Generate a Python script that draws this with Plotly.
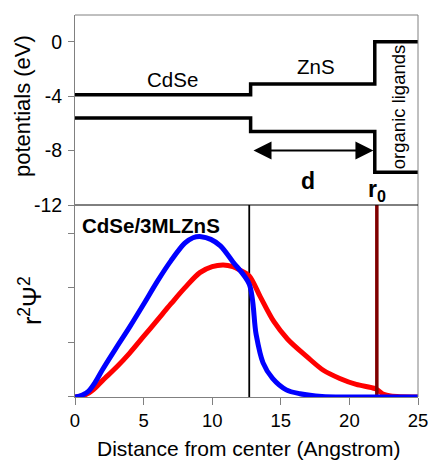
import plotly.graph_objects as go

# --- data ---
blue_x = [0, 0.5, 1, 1.5, 2, 3, 4, 5, 6, 7, 8, 8.6, 9.2, 9.9, 10.6, 11.5, 12.7, 13.2, 13.7, 14.4, 15.4, 16.4, 18, 20, 25]
blue_y = [0, 0.03, 0.11, 0.28, 0.5, 0.9, 1.29, 1.70, 2.12, 2.50, 2.82, 2.92, 2.94, 2.89, 2.77, 2.48, 2.07, 1.15, 0.63, 0.34, 0.13, 0.06, 0.01, 0, 0]

red_x = [0, 0.5, 1, 1.5, 2, 3, 4, 5, 6, 7, 8, 9.1, 10.0, 10.8, 11.5, 12.0, 12.7, 13.5, 14.5, 15.5, 16.9, 18.1, 19.3, 20.5, 21.9, 22.5, 23, 25]
red_y = [0, 0.02, 0.07, 0.17, 0.3, 0.54, 0.81, 1.11, 1.41, 1.71, 2.0, 2.28, 2.39, 2.42, 2.39, 2.33, 2.22, 1.84, 1.38, 1.06, 0.74, 0.49, 0.34, 0.23, 0.15, 0.05, 0.02, 0]

pot_x = [0, 12.8, 12.8, 21.85, 21.85, 25]
cond_band = [-3.9, -3.9, -3.1, -3.1, 0, 0]
val_band = [-5.6, -5.6, -6.6, -6.6, -9.6, -9.6]

interface_r = 12.7
r0 = 22.0

x_ticks = [0, 5, 10, 15, 20, 25]
pot_ticks = [0, -4, -8, -12]

FONT = "Liberation Sans, Arial, sans-serif"
AX = "#808080"
SPLIT = 0.5026

fig = go.Figure()

# bottom panel
fig.add_trace(go.Scatter(x=[interface_r, interface_r], y=[0, 3.52], mode="lines",
                         line=dict(color="black", width=1.8), xaxis="x", yaxis="y"))
fig.add_trace(go.Scatter(x=red_x, y=red_y, mode="lines", line=dict(color="#ff0000", width=5, shape="spline", smoothing=0.9),
                         xaxis="x", yaxis="y"))
fig.add_trace(go.Scatter(x=[r0, r0], y=[0, 3.52], mode="lines",
                         line=dict(color="#800000", width=3.5), xaxis="x", yaxis="y"))
fig.add_trace(go.Scatter(x=blue_x, y=blue_y, mode="lines", line=dict(color="#0000ff", width=5, shape="spline", smoothing=0.9),
                         xaxis="x", yaxis="y"))

# top panel
fig.add_trace(go.Scatter(x=pot_x, y=cond_band, mode="lines", line=dict(color="black", width=3.5),
                         xaxis="x", yaxis="y2"))
fig.add_trace(go.Scatter(x=pot_x, y=val_band, mode="lines", line=dict(color="black", width=3.5),
                         xaxis="x", yaxis="y2"))

ann = []
# double arrow
ann.append(dict(x=21.75, y=-8.0, ax=12.9, ay=-8.0, xref="x", yref="y2", axref="x", ayref="y2",
                text="", showarrow=True, arrowhead=2, startarrowhead=2, arrowside="end+start",
                arrowsize=1.8, startarrowsize=1.8, arrowwidth=2, arrowcolor="black"))
ann.append(dict(x=7.08, y=-2.75, xref="x", yref="y2", text="CdSe", showarrow=False,
                font=dict(size=20.5, color="black", family=FONT)))
ann.append(dict(x=17.6, y=-1.8, xref="x", yref="y2", text="ZnS", showarrow=False,
                font=dict(size=20.5, color="black", family=FONT)))
ann.append(dict(x=23.55, y=-4.8, xref="x", yref="y2", text="organic ligands", showarrow=False, textangle=-90,
                font=dict(size=18.5, color="black", family=FONT)))
ann.append(dict(x=17.0, y=-10.2, xref="x", yref="y2", text="<b>d</b>", showarrow=False,
                font=dict(size=23, color="black", family=FONT)))
ann.append(dict(x=22.0, y=-10.9, xref="x", yref="y2", text="<b>r<sub>0</sub></b>", showarrow=False,
                font=dict(size=23, color="black", family=FONT)))
ann.append(dict(x=0.35, y=3.15, xref="x", yref="y", text="<b>CdSe/3MLZnS</b>", showarrow=False, xanchor="left",
                font=dict(size=20.5, color="black", family=FONT)))
# axis titles (pixel positions converted below)
ann.append(dict(x=23, y=106, xref="paper", yref="paper", text="potentials (eV)", showarrow=False, textangle=-90,
                xanchor="center", yanchor="middle", font=dict(size=22, color="black", family=FONT)))
ann.append(dict(x=30, y=301, xref="paper", yref="paper", text="r<sup>2</sup>Ψ<sup>2</sup>", showarrow=False, textangle=-90,
                xanchor="center", yanchor="middle", font=dict(size=25, color="black", family=FONT)))
ann.append(dict(x=248, y=448, xref="paper", yref="paper", text="Distance from center (Angstrom)", showarrow=False,
                xanchor="center", yanchor="middle", font=dict(size=21, color="black", family=FONT)))

L, R, T, B = 75, 11, 15, 64
W, H = 429, 461
pw, ph = W - L - R, H - T - B
for a in ann[-3:]:
    px, py = a["x"], a["y"]
    a["x"] = (px - L) / pw
    a["y"] = (H - B - py) / ph

shapes = [
    dict(type="line", xref="paper", yref="paper", x0=0, x1=1, y0=1, y1=1, line=dict(color=AX, width=1)),
    dict(type="line", xref="paper", yref="paper", x0=1, x1=1, y0=0, y1=1, line=dict(color=AX, width=1)),
    dict(type="line", xref="paper", yref="paper", x0=0, x1=1, y0=SPLIT, y1=SPLIT, line=dict(color="black", width=1)),
]

fig.update_layout(
    width=W, height=H,
    margin=dict(l=L, r=R, t=T, b=B, autoexpand=False),
    paper_bgcolor="white", plot_bgcolor="white",
    showlegend=False,
    font=dict(family=FONT, color="black"),
    annotations=ann, shapes=shapes,
    xaxis=dict(domain=[0, 1], range=[0, 25], tickvals=x_ticks, ticks="outside", ticklen=7, tickcolor=AX,
               showline=True, linecolor=AX, showgrid=False, zeroline=False, anchor="y", automargin=False,
               ticklabelstandoff=0,
               tickfont=dict(size=18.5, family=FONT, color="black")),
    yaxis=dict(domain=[0, SPLIT], range=[0, 3.52], tickvals=[0, 1, 2, 3], showticklabels=False, ticks="outside",
               ticklen=6, tickcolor=AX, showline=True, linecolor=AX, showgrid=False, zeroline=False, anchor="x",
               automargin=False),
    yaxis2=dict(domain=[SPLIT, 1], range=[-12, 1.97], tickvals=pot_ticks, ticktext=[str(t) for t in pot_ticks],
                ticks="outside", ticklen=6, tickcolor=AX, showline=True, linecolor=AX, showgrid=False, zeroline=False,
                anchor="x", automargin=False, ticklabelstandoff=2, tickfont=dict(size=19.5, family=FONT, color="black")),
)

fig.write_html("out.html")
